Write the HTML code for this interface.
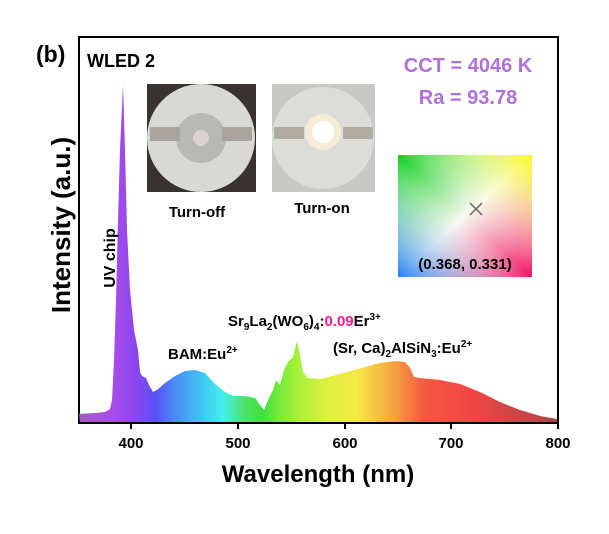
<!DOCTYPE html>
<html><head><meta charset="utf-8"><style>
body{margin:0;background:#fff;}
svg text{font-family:"Liberation Sans",Arial,sans-serif;font-weight:bold;}
</style></head><body>
<svg width="609" height="529" viewBox="0 0 609 529" xmlns="http://www.w3.org/2000/svg">
<defs>
<linearGradient id="sp" x1="79" x2="558" y1="0" y2="0" gradientUnits="userSpaceOnUse">
<stop offset="0" stop-color="#a05cc0"/>
<stop offset="0.07" stop-color="#a84de8"/>
<stop offset="0.12" stop-color="#8a45f0"/>
<stop offset="0.16" stop-color="#5a50f5"/>
<stop offset="0.20" stop-color="#4a8cf5"/>
<stop offset="0.26" stop-color="#40c8f0"/>
<stop offset="0.30" stop-color="#44eeee"/>
<stop offset="0.35" stop-color="#50e060"/>
<stop offset="0.38" stop-color="#40e040"/>
<stop offset="0.45" stop-color="#a0f038"/>
<stop offset="0.52" stop-color="#e0f040"/>
<stop offset="0.58" stop-color="#f5e845"/>
<stop offset="0.66" stop-color="#f5a040"/>
<stop offset="0.72" stop-color="#f55a40"/>
<stop offset="0.82" stop-color="#f24444"/>
<stop offset="1" stop-color="#a84848"/>
</linearGradient>
<linearGradient id="cie1" x1="0" y1="0" x2="1" y2="1">
<stop offset="0" stop-color="#10d020"/>
<stop offset="0.5" stop-color="#f8f8f0"/>
<stop offset="1" stop-color="#f01060"/>
</linearGradient>
<linearGradient id="cie2" x1="1" y1="0" x2="0" y2="1">
<stop offset="0" stop-color="#f8f820" stop-opacity="1"/>
<stop offset="0.5" stop-color="#ffffff" stop-opacity="0"/>
<stop offset="1" stop-color="#2080f0" stop-opacity="1"/>
</linearGradient>
</defs>
<rect x="79" y="37" width="479" height="386" fill="none" stroke="#000" stroke-width="2"/>
<polygon fill="url(#sp)" points="79,414 95,413 105,412 110,409 112,400 114,360 116,300 118,220 120,150 123,85 125,150 127,230 130,290 134,330 138,350 140,372 142,376 146,378 149,385 153,392 157,390 165,383 175,376 185,371 195,370 205,373 215,384 225,392 233,396 245,396 255,398 260,405 264,410 268,400 273,390 276,380 280,385 284,370 288,362 293,357 297,341 300,355 303,372 308,378 320,379 340,374 365,367 380,363 395,361 405,362 410,368 414,377 420,378 440,380 460,384 480,392 500,402 520,410 540,416 557,419 557,422 80,422"/>
<g stroke="#000" stroke-width="2">
<line x1="131" y1="423" x2="131" y2="429"/><line x1="238" y1="423" x2="238" y2="429"/><line x1="345" y1="423" x2="345" y2="429"/><line x1="451" y1="423" x2="451" y2="429"/><line x1="558" y1="423" x2="558" y2="429"/>
</g>
<g font-size="15" text-anchor="middle">
<text x="131" y="448">400</text><text x="238" y="448">500</text><text x="345" y="448">600</text><text x="451" y="448">700</text><text x="558" y="448">800</text>
</g>
<text x="318" y="482" font-size="24" text-anchor="middle">Wavelength (nm)</text>
<text transform="translate(70,225) rotate(-90)" font-size="26" text-anchor="middle">Intensity (a.u.)</text>
<text x="36" y="62" font-size="23">(b)</text>
<text x="87" y="67" font-size="18">WLED 2</text>
<text transform="translate(115,258) rotate(-90)" font-size="16" text-anchor="middle">UV chip</text>
<rect x="147" y="84" width="109" height="108" fill="#3a3230"/>
<circle cx="201" cy="138" r="54" fill="#d8d8d4"/>
<circle cx="201" cy="138" r="25" fill="#b8b8b6"/>
<rect x="150" y="127" width="30" height="14" fill="#a8a49c"/>
<rect x="222" y="127" width="30" height="14" fill="#a8a49c"/>
<circle cx="201" cy="138" r="8" fill="#ddd0d0"/>
<rect x="272" y="84" width="103" height="108" fill="#c8c8c4"/>
<circle cx="323" cy="138" r="51" fill="#dcdcd8"/>
<rect x="274" y="127" width="30" height="12" fill="#b0aca4"/>
<rect x="343" y="127" width="30" height="12" fill="#b0aca4"/>
<circle cx="323" cy="132" r="18" fill="#f4ecd8"/>
<circle cx="323" cy="132" r="11" fill="#ffffff"/>
<text x="197" y="217" font-size="15" text-anchor="middle">Turn-off</text>
<text x="322" y="213" font-size="15" text-anchor="middle">Turn-on</text>
<text x="468" y="72" font-size="20" fill="#b070d8" text-anchor="middle">CCT = 4046 K</text>
<text x="468" y="104" font-size="20" fill="#b070d8" text-anchor="middle">Ra = 93.78</text>
<rect x="398" y="155" width="134" height="122" fill="url(#cie1)"/>
<rect x="398" y="155" width="134" height="122" fill="url(#cie2)"/>
<g stroke="#666" stroke-width="1.5"><line x1="470" y1="203" x2="482" y2="215"/><line x1="482" y1="203" x2="470" y2="215"/></g>
<text x="465" y="269" font-size="15" text-anchor="middle">(0.368, 0.331)</text>
<text x="168" y="359" font-size="15">BAM:Eu<tspan dy="-6" font-size="10">2+</tspan></text>
<text x="228" y="326" font-size="15">Sr<tspan dy="4" font-size="10">9</tspan><tspan dy="-4">La</tspan><tspan dy="4" font-size="10">2</tspan><tspan dy="-4">(WO</tspan><tspan dy="4" font-size="10">6</tspan><tspan dy="-4">)</tspan><tspan dy="4" font-size="10">4</tspan><tspan dy="-4">:</tspan><tspan fill="#ff1a8c">0.09</tspan>Er<tspan dy="-6" font-size="10">3+</tspan></text>
<text x="333" y="353" font-size="15">(Sr, Ca)<tspan dy="4" font-size="10">2</tspan><tspan dy="-4">AlSiN</tspan><tspan dy="4" font-size="10">3</tspan><tspan dy="-4">:Eu</tspan><tspan dy="-6" font-size="10">2+</tspan></text>
</svg>
</body></html>
